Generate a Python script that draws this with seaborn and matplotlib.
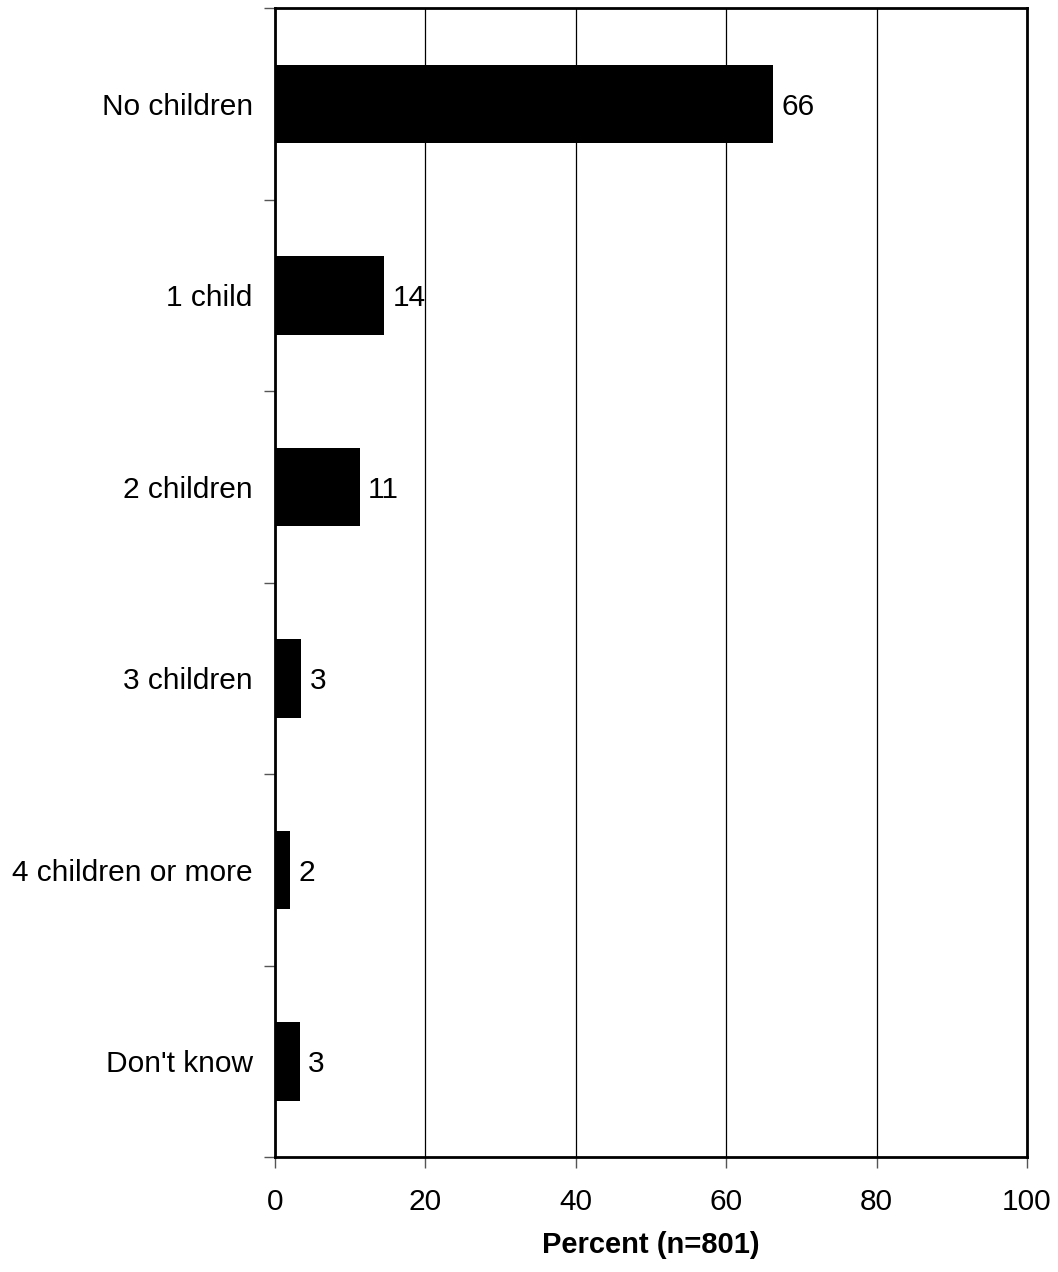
# Children count bar chart
# Horizontal bars with value labels at the bar ends

import matplotlib
matplotlib.use("Agg")
import matplotlib.pyplot as plt
import numpy as np
import seaborn as sns

# Data
categories = ["No children", "1 child", "2 children", "3 children",
              "4 children or more", "Don't know"]
values = [66.2, 14.5, 11.3, 3.5, 2.0, 3.3]
labels = ["66", "14", "11", "3", "2", "3"]

sns.set_style("white")
plt.rcParams['font.family'] = ['Liberation Sans', 'DejaVu Sans']
plt.rcParams['text.color'] = 'black'
plt.rcParams['xtick.labelcolor'] = 'black'
plt.rcParams['ytick.labelcolor'] = 'black'
plt.rcParams['axes.labelcolor'] = 'black'

fig = plt.figure(figsize=(10.58, 12.72), dpi=100)
ax = fig.add_axes([0.2599, 0.0904, 0.7108, 0.9033])

sns.barplot(x=values, y=categories, orient="h", color="black",
            saturation=1, width=0.41, linewidth=0, ax=ax, zorder=3)

ax.set_xlim(0, 100)
ax.set_ylim(5.5, -0.5)
ax.set_xticks(np.arange(0, 101, 20))
ax.xaxis.grid(True, color="black", linewidth=0.9)
ax.set_axisbelow(True)

# category labels at centers, tick marks at boundaries
ax.set_yticks(range(len(categories)))
ax.set_yticklabels(categories)
ax.set_yticks(np.arange(-0.5, len(categories), 1), minor=True)
ax.tick_params(axis="y", which="major", length=0, pad=16, labelsize=21.5)
ax.tick_params(axis="y", which="minor", length=8, width=1, color="#555555",
               left=True, direction="out")
ax.tick_params(axis="x", length=8, width=1, color="#555555", bottom=True,
               direction="out", pad=14, labelsize=21.5)

for spine in ax.spines.values():
    spine.set_visible(True)
    spine.set_color("black")
    spine.set_linewidth(2)

ax.set_xlabel("Percent (n=801)", fontsize=21, fontweight="bold", labelpad=11)
ax.set_ylabel("")

for bar, text in zip(ax.patches, labels):
    text_x = bar.get_width() + 1.1
    text_y = bar.get_y() + bar.get_height() / 2.0
    ax.text(text_x, text_y, text, fontsize=21.5, ha="left",
            va="center_baseline")

fig.savefig("out.png", dpi=100, facecolor="white")
